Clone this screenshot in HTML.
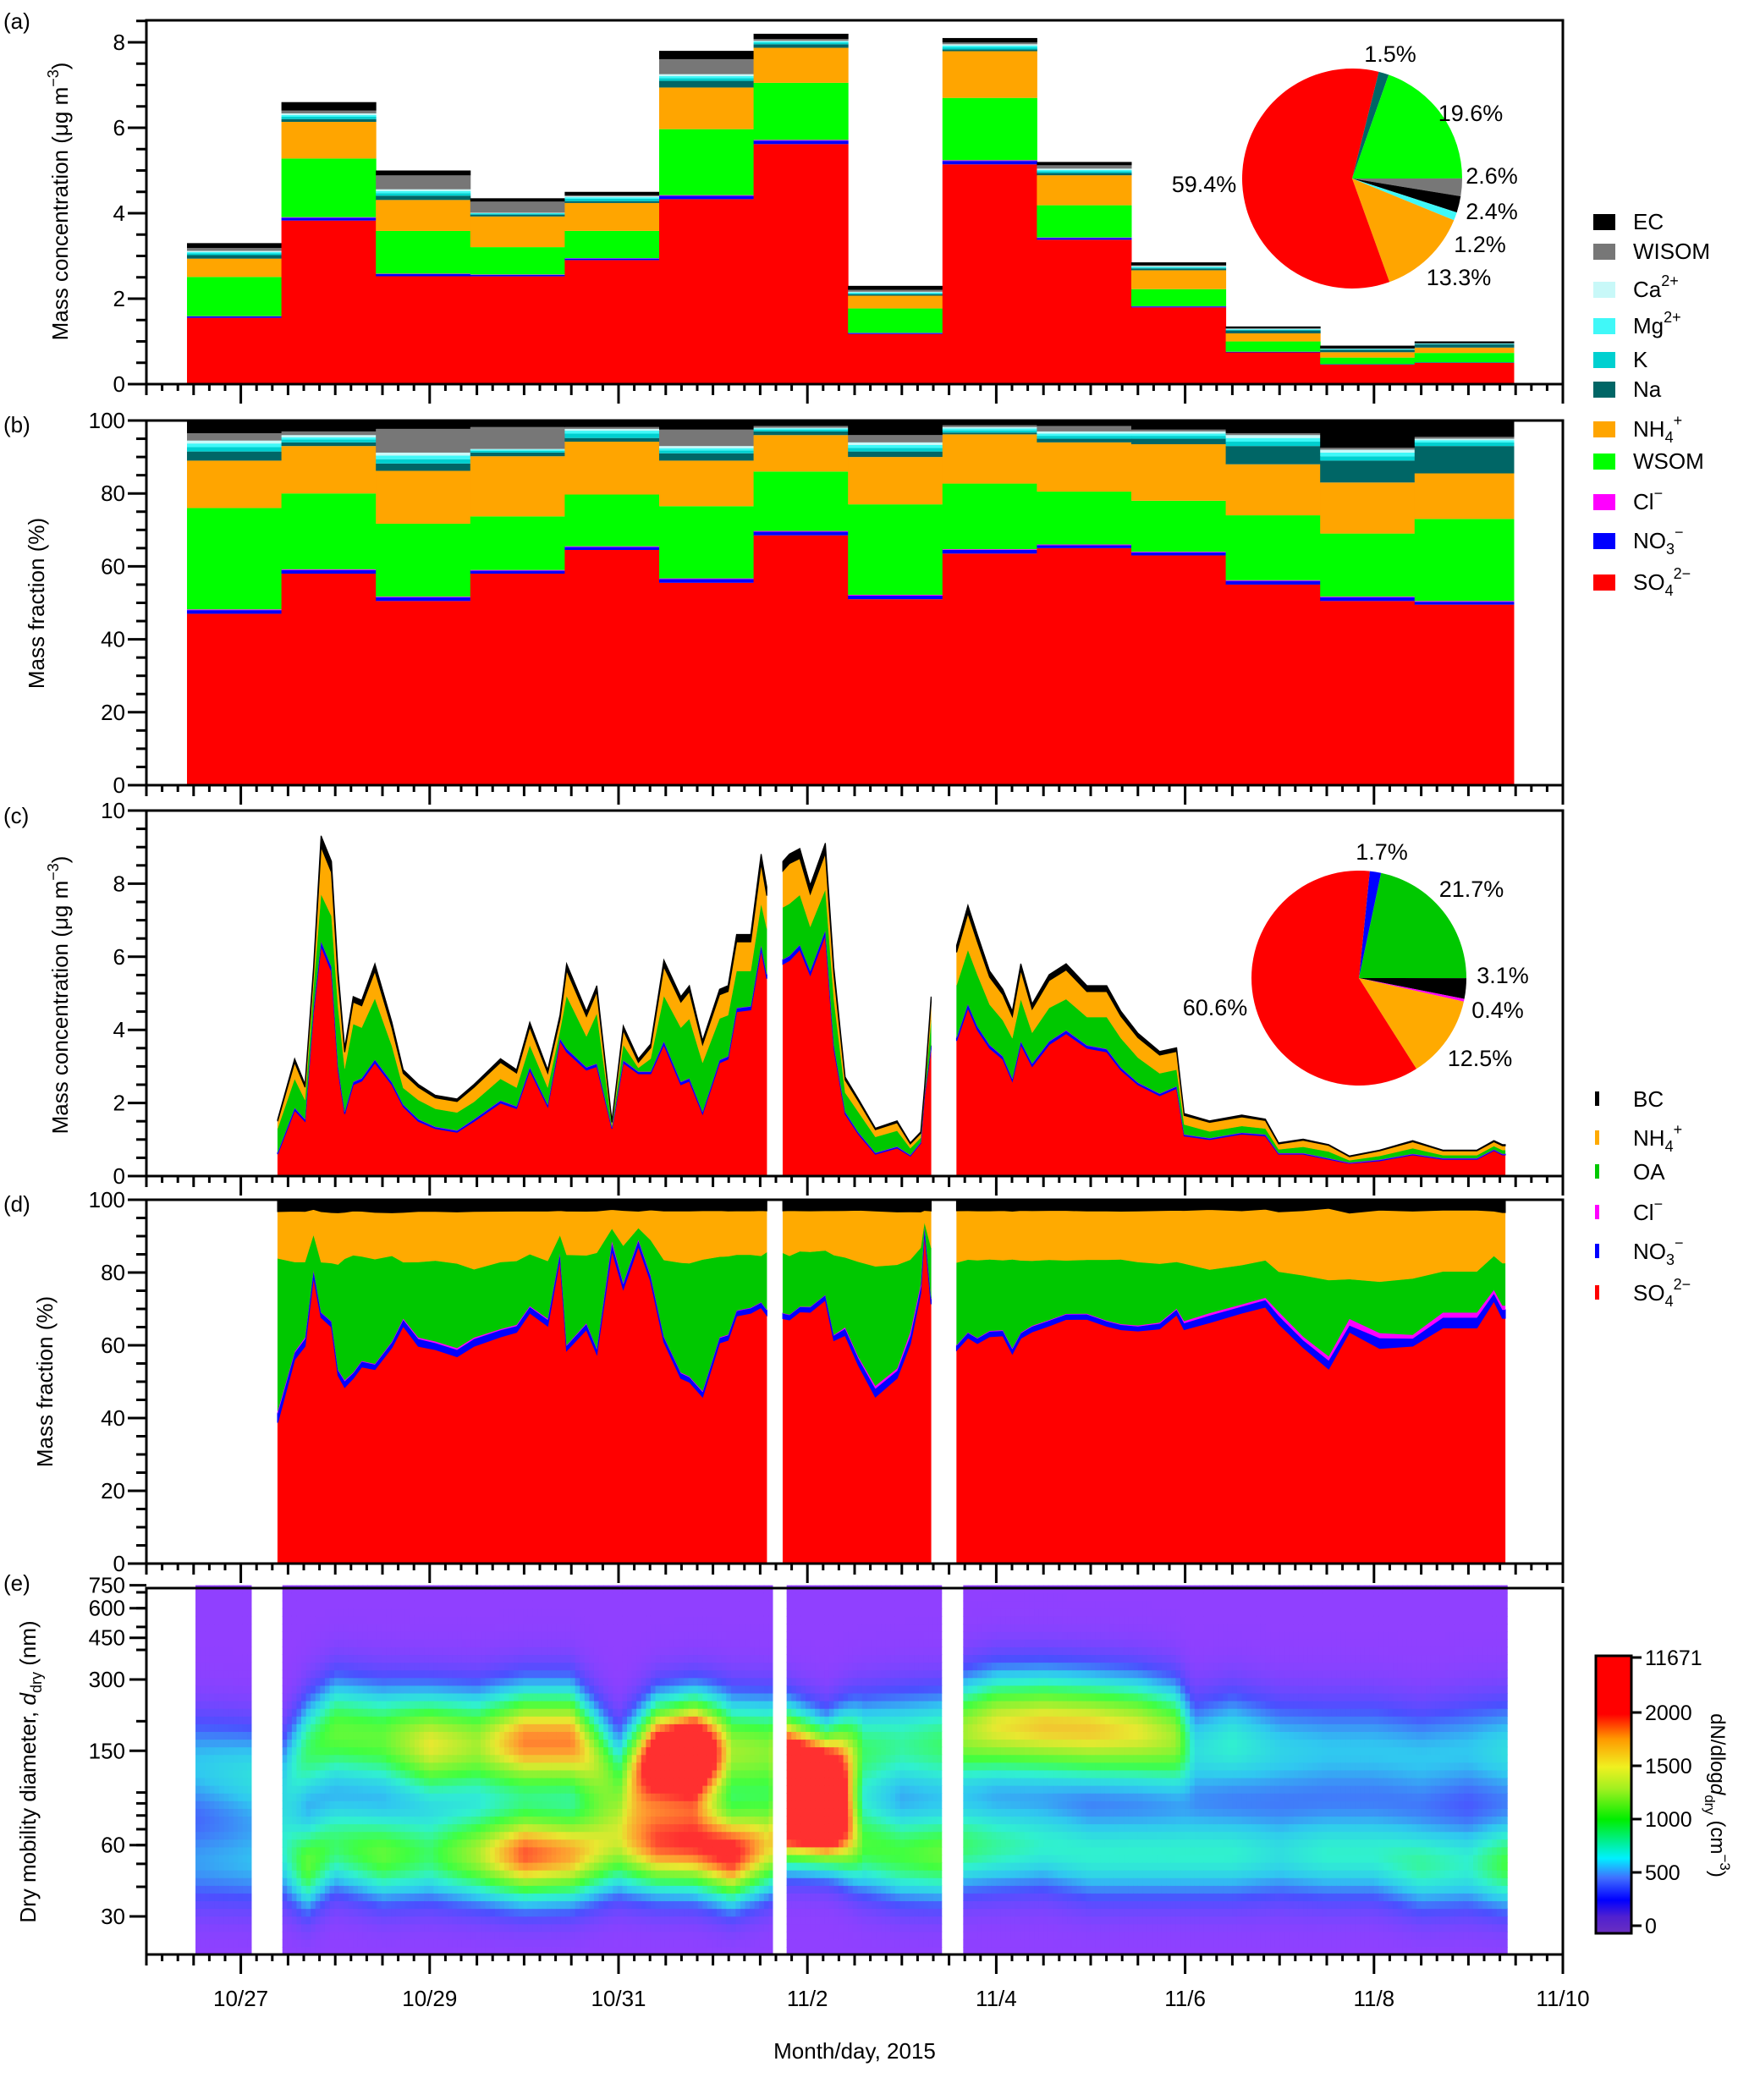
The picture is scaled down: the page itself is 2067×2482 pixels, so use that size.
<!DOCTYPE html>
<html><head><meta charset="utf-8"><style>
html,body{margin:0;padding:0;background:#fff}
svg{display:block;font-family:"Liberation Sans",Arial,sans-serif}
</style></head><body>
<svg id="chart" xmlns="http://www.w3.org/2000/svg" width="2067" height="2482" viewBox="0 0 2067 2482">
<defs>
<linearGradient id="cbgrad" x1="0" y1="1" x2="0" y2="0">
<stop offset="0" stop-color="#6a2fc0"/><stop offset="0.06" stop-color="#5020d0"/><stop offset="0.12" stop-color="#0000ff"/>
<stop offset="0.2" stop-color="#4070ff"/><stop offset="0.27" stop-color="#00f0ff"/><stop offset="0.41" stop-color="#00ee00"/>
<stop offset="0.52" stop-color="#a0f020"/><stop offset="0.6" stop-color="#f0f020"/><stop offset="0.7" stop-color="#ff9900"/>
<stop offset="0.79" stop-color="#ff0000"/><stop offset="1" stop-color="#ff0000"/>
</linearGradient>
</defs>
<g id="layer"></g>
<text x="4" y="34" font-size="26">(a)</text>
<text x="4" y="511" font-size="26">(b)</text>
<text x="4" y="973" font-size="26">(c)</text>
<text x="4" y="1432" font-size="26">(d)</text>
<text x="4" y="1880" font-size="26">(e)</text>
<text transform="translate(80,238) rotate(-90)" text-anchor="middle" font-size="26">Mass concentration (μg m<tspan dy="-11" font-size="18">−3</tspan><tspan dy="11">)</tspan></text>
<text transform="translate(52,713) rotate(-90)" text-anchor="middle" font-size="26">Mass fraction (%)</text>
<text transform="translate(80,1176) rotate(-90)" text-anchor="middle" font-size="26">Mass concentration (μg m<tspan dy="-11" font-size="18">−3</tspan><tspan dy="11">)</tspan></text>
<text transform="translate(62,1633) rotate(-90)" text-anchor="middle" font-size="26">Mass fraction (%)</text>
<text transform="translate(42,2094) rotate(-90)" text-anchor="middle" font-size="26">Dry mobility diameter, <tspan font-style="italic">d</tspan><tspan dy="7" font-size="18">dry</tspan><tspan dy="-7"> (nm)</tspan></text>
<text x="1010" y="2433" text-anchor="middle" font-size="26">Month/day, 2015</text>
<g font-size="26">
<rect x="1883" y="253" width="26" height="19" fill="#000"/><text x="1930" y="271">EC</text>
<rect x="1883" y="288" width="26" height="19" fill="#777"/><text x="1930" y="306">WISOM</text>
<rect x="1883" y="333" width="26" height="19" fill="#c8f8f8"/><text x="1930" y="351">Ca<tspan dy="-13" font-size="18">2+</tspan></text>
<rect x="1883" y="376" width="26" height="19" fill="#40f8f8"/><text x="1930" y="394">Mg<tspan dy="-13" font-size="18">2+</tspan></text>
<rect x="1883" y="416" width="26" height="19" fill="#00d0d0"/><text x="1930" y="434">K</text>
<rect x="1883" y="451" width="26" height="19" fill="#006666"/><text x="1930" y="469">Na</text>
<rect x="1883" y="498" width="26" height="19" fill="#ffa500"/><text x="1930" y="516">NH<tspan dy="7" font-size="18">4</tspan><tspan dy="-20" font-size="18">+</tspan></text>
<rect x="1883" y="536" width="26" height="19" fill="#00ff00"/><text x="1930" y="554">WSOM</text>
<rect x="1883" y="584" width="26" height="19" fill="#ff00ff"/><text x="1930" y="602">Cl<tspan dy="-13" font-size="18">−</tspan></text>
<rect x="1883" y="630" width="26" height="19" fill="#0000ff"/><text x="1930" y="648">NO<tspan dy="7" font-size="18">3</tspan><tspan dy="-20" font-size="18">−</tspan></text>
<rect x="1883" y="679" width="26" height="19" fill="#ff0000"/><text x="1930" y="697">SO<tspan dy="7" font-size="18">4</tspan><tspan dy="-20" font-size="18">2−</tspan></text>
</g>
<g font-size="26">
<rect x="1885" y="1290" width="5" height="17" fill="#000"/><text x="1930" y="1308">BC</text>
<rect x="1885" y="1336" width="5" height="17" fill="#ffaa00"/><text x="1930" y="1354">NH<tspan dy="7" font-size="18">4</tspan><tspan dy="-20" font-size="18">+</tspan></text>
<rect x="1885" y="1376" width="5" height="17" fill="#00c800"/><text x="1930" y="1394">OA</text>
<rect x="1885" y="1424" width="5" height="17" fill="#ff00ff"/><text x="1930" y="1442">Cl<tspan dy="-13" font-size="18">−</tspan></text>
<rect x="1885" y="1470" width="5" height="17" fill="#0000ff"/><text x="1930" y="1488">NO<tspan dy="7" font-size="18">3</tspan><tspan dy="-20" font-size="18">−</tspan></text>
<rect x="1885" y="1519" width="5" height="17" fill="#ff0000"/><text x="1930" y="1537">SO<tspan dy="7" font-size="18">4</tspan><tspan dy="-20" font-size="18">2−</tspan></text>
</g>
<rect x="1886" y="1957" width="42" height="328" fill="url(#cbgrad)" stroke="#000" stroke-width="3"/>
<text transform="translate(2022,2122) rotate(90)" text-anchor="middle" font-size="24">dN/dlog<tspan font-style="italic">d</tspan><tspan dy="7" font-size="17">dry</tspan><tspan dy="-7"> (cm</tspan><tspan dy="-11" font-size="17">−3</tspan><tspan dy="11">)</tspan></text>
</svg>
<script>
const NS='http://www.w3.org/2000/svg';
const root=document.getElementById('layer');
function mk(tag,attrs,parent){const e=document.createElementNS(NS,tag);for(const k in attrs)e.setAttribute(k,attrs[k]);(parent||root).appendChild(e);return e;}

/* ---------- DATA: panel (a)/(b) daily bars ---------- */
const barEdges=[-0.57,0.43,1.43,2.43,3.43,4.43,5.43,6.43,7.43,8.43,9.43,10.43,11.43,12.43,13.48];
const barTotal=[3.3,6.6,5.0,4.35,4.5,7.8,8.2,2.3,8.1,5.2,2.85,1.35,0.9,1.0];
const fSO4=[47,58,50.5,58,64.5,55.5,68.5,51,63.5,65,63,55,50.5,49.5];
const fNO3=[1,1,1,0.8,0.8,1,1,1,1,0.8,0.8,1,1,0.8];
const fCl=[0.2,0.2,0.2,0.2,0.2,0.2,0.2,0.2,0.2,0.2,0.2,0.2,0.2,0.2];
const fWSOM=[27.8,20.8,20,14.7,14.2,19.8,16.3,24.8,18,14.5,14,17.8,17.3,22.5];
const fNH4=[13,13,14.5,16.5,14.5,12.5,10,13,13.5,13.5,15.5,14,14,12.5];
const fNa=[2.5,1,2,1,1,2,1,1.5,0.5,1,1.5,5,6,7.5];
const fK=[1.2,0.8,1.2,0.5,1.2,0.8,0.5,1,0.6,0.8,0.8,1.2,1.2,1];
const fMg=[1,0.6,1,0.3,0.8,0.6,0.3,0.8,0.5,0.6,0.6,1,1,0.6];
const fCa=[0.8,0.6,0.8,0.2,0.5,0.6,0.2,0.7,0.4,0.6,0.6,0.8,0.8,0.4];
const fWISOM=[2,1,6.5,6,0.5,4.5,0.5,2,0.5,1.5,0.5,0.5,0.5,0.5];
const fEC=[3.5,3,2.3,1.8,1.8,2.5,1.5,4,1.3,1.5,2.5,3.5,7.5,4.5];

/* ---------- DATA: panel (c)/(d) time series ---------- */
const tC=[0.39,0.57,0.68,0.77,0.85,0.96,1.03,1.10,1.19,1.28,1.42,1.60,1.72,1.88,2.06,2.29,2.47,2.75,2.92,3.06,3.25,3.38,3.45,3.66,3.77,3.93,4.05,4.21,4.34,4.48,4.66,4.75,4.89,5.07,5.16,5.25,5.40,5.51,5.57,5.58,5.74,5.81,5.92,6.03,6.19,6.28,6.40,6.54,6.72,6.95,7.09,7.20,7.24,7.31,7.37,7.58,7.70,7.80,7.93,8.07,8.17,8.26,8.38,8.56,8.74,8.96,9.17,9.32,9.50,9.73,9.91,9.99,10.26,10.6,10.85,10.99,11.25,11.52,11.74,12.06,12.41,12.73,13.09,13.27,13.36,13.39];
const so4C=[0.6,1.8,1.5,4.5,6.3,5.6,2.9,1.7,2.5,2.6,3.1,2.5,1.9,1.5,1.3,1.2,1.5,2.0,1.85,2.9,1.9,3.7,3.4,2.9,3.0,1.3,3.1,2.8,2.8,3.6,2.5,2.6,1.7,3.1,3.2,4.5,4.55,6.2,5.4,null,5.8,5.9,6.2,5.5,6.6,3.5,1.7,1.15,0.6,0.77,0.55,0.9,2.2,3.5,null,3.7,4.6,4.0,3.5,3.2,2.6,3.6,3.0,3.6,3.9,3.5,3.4,2.9,2.5,2.2,2.4,1.1,1.0,1.15,1.1,0.6,0.6,0.46,0.35,0.42,0.58,0.46,0.46,0.7,0.58,0.58];
const no3C=[.04,.06,.05,.1,.12,.12,.08,.06,.07,.07,.08,.06,.05,.05,.04,.04,.05,.06,.05,.07,.05,.06,.08,.07,.07,.03,.06,.05,.05,.08,.07,.07,.05,.07,.07,.09,.09,.12,.11,null,.12,.12,.12,.11,.12,.08,.05,.04,.03,.03,.02,.02,.03,.07,null,.08,.1,.09,.08,.07,.06,.08,.07,.08,.08,.07,.07,.06,.05,.05,.05,.03,.03,.03,.03,.02,.02,.02,.01,.02,.02,.02,.02,.02,.02,.02];
const clC=[.01,.01,.01,.01,.01,.01,.01,.01,.01,.01,.01,.01,.01,.01,.01,.01,.01,.01,.01,.01,.01,.01,.01,.01,.01,.01,.01,.01,.01,.01,.01,.01,.01,.01,.01,.01,.01,.01,.01,null,.01,.01,.01,.01,.01,.01,.01,.01,.01,.01,.01,.01,.01,.01,null,.01,.01,.01,.01,.01,.01,.01,.01,.01,.01,.01,.01,.01,.01,.01,.01,.01,.01,.01,.01,.01,.01,.01,.01,.01,.01,.01,.01,.01,.01,.01];
const oaC=[.65,.79,.52,.55,1.28,1.38,1.62,1.17,1.58,1.38,1.67,.99,.45,.52,.49,.49,.47,.59,.51,.6,.46,.21,1.44,.84,1.37,.05,.42,.1,.35,1.24,1.48,1.62,1.34,1.13,1.12,1.01,.96,1.12,1.25,null,1.42,1.42,1.36,1.2,1.11,1.25,.52,.55,.43,.43,.18,.12,.02,.68,null,1.43,1.48,1.41,1.1,.98,1.1,1.15,.84,.91,.85,.77,.87,.8,.68,.55,.45,.27,.18,.18,.16,.1,.17,.18,.06,.1,.15,.08,.08,.09,.1,.1];
const nh4C=[.2,.45,.35,.4,1.3,1.2,.8,.45,.6,.6,.75,.5,.4,.35,.3,.3,.4,.45,.4,.5,.4,.3,.7,.55,.6,.08,.4,.15,.3,.8,.7,.75,.5,.65,.65,.8,.8,1.1,.9,null,1.0,1.1,1.0,.9,1.0,.7,.35,.3,.2,.22,.12,.12,.08,.5,null,.9,1.0,.9,.75,.7,.6,.8,.65,.75,.8,.7,.7,.6,.55,.5,.5,.25,.25,.25,.22,.15,.18,.17,.1,.14,.18,.12,.12,.12,.12,.12];
const bcC=[.05,.1,.08,.15,.3,.3,.2,.12,.15,.15,.2,.15,.1,.08,.07,.07,.08,.1,.09,.13,.09,.13,.18,.14,.16,.04,.12,.1,.1,.18,.15,.16,.11,.15,.16,.2,.2,.26,.24,null,.26,.26,.27,.24,.27,.17,.08,.06,.04,.05,.03,.04,.07,.15,null,.19,.22,.2,.17,.15,.14,.17,.14,.16,.17,.16,.16,.14,.12,.1,.1,.05,.04,.05,.04,.03,.03,.02,.02,.02,.03,.02,.02,.03,.03,.03];

/* ---------- DATA: pies ---------- */
const pieALabels=['1.5%','19.6%','2.6%','2.4%','1.2%','13.3%','59.4%'];
const pieAValues=[1.5,19.6,2.6,2.4,1.2,13.3,59.4];
const pieCLabels=['1.7%','21.7%','3.1%','0.4%','12.5%','60.6%'];
const pieCValues=[1.7,21.7,3.1,0.4,12.5,60.6];

/* ---------- DATA: panel (e) size-distribution modes ---------- */
const modeT=[-0.48,0.1,0.44,0.7,1.0,1.5,2.0,2.5,3.0,3.5,4.0,4.4,4.8,5.2,5.6,5.8,6.2,6.6,7.0,7.4,7.65,8.0,8.5,9.0,9.5,9.9,10.1,10.5,11.0,11.5,12.0,12.5,13.0,13.4];
const accD=[130,120,110,150,180,170,160,160,165,165,110,140,145,150,150,130,110,150,160,160,180,190,190,185,180,170,150,160,150,150,150,140,150,150];
const accN=[500,600,500,900,1100,1100,1500,1300,1800,1800,900,2500,3000,1300,1200,2500,2500,900,800,900,1300,1500,1600,1600,1500,1300,600,700,550,500,500,500,500,600];
const aitD=[50,50,55,50,60,55,55,55,55,55,60,60,60,55,60,80,80,60,55,55,60,60,60,55,55,55,55,55,55,55,55,50,50,50];
const aitN=[400,450,600,1100,900,1100,900,1300,1900,1700,1200,1800,1900,2100,1500,2500,2500,1000,1000,1100,900,800,700,700,700,700,700,700,600,700,700,800,700,1000];
const segStart=[-0.48,0.44,5.78,7.65];
const segEnd=[0.11,5.63,7.42,13.41];
const cbTicks=[0,500,1000,1500,2000];
const cbTopLabel='11671';
const sizeTicks=[30,60,150,300,450,600,750];
const sizeMinor=[30,40,50,60,70,80,90,100,200,300,400,500,600,700];
const dayLabels=['10/27','10/29','10/31','11/2','11/4','11/6','11/8','11/10'];

/* ---------- scales ---------- */
const XL=173,XR=1847;
const X=d=>XL+111.6*(d+1);
const P={a:[24,454],b:[497,928],c:[958,1390],d:[1418,1848],e:[1877,2310]};
const yA=v=>454-v*50.5;
const yB=v=>928-v*4.31;
const yC=v=>1390-v*43.2;
const yD=v=>1848-v*4.30;
const yE=dnm=>1985-280*Math.log10(dnm/300);

/* ---------- panels a & b ---------- */
const barComps=[fSO4,fNO3,fCl,fWSOM,fNH4,fNa,fK,fMg,fCa,fWISOM,fEC];
const barNames=['so4','no3','cl','wsom','nh4','na','k','mg','ca','wisom','ec'];
const barColors=['#ff0000','#0000ff','#ff00ff','#00ff00','#ffa500','#006666','#00d0d0','#40f8f8','#c8f8f8','#777777','#000000'];
for(let i=0;i<barTotal.length;i++){
  let s=0;barComps.forEach(c=>s+=c[i]);
  let ca=0,cb=0;
  const x0=X(barEdges[i]),x1=X(barEdges[i+1]);
  barComps.forEach((c,k)=>{
    const fr=c[i]/s;
    const va=barTotal[i]*fr;
    const ra=mk('rect',{x:x0,y:yA(ca+va),width:x1-x0+0.5,height:Math.max(0,yA(ca)-yA(ca+va)),fill:barColors[k]});
    
    
    ca+=va;
    const vb=fr*100;
    const rb=mk('rect',{x:x0,y:yB(cb+vb),width:x1-x0+0.5,height:Math.max(0,yB(cb)-yB(cb+vb)),fill:barColors[k]});
    
    
    cb+=vb;
  });
}

/* ---------- panels c & d ---------- */
const serComps=[so4C,no3C,clC,oaC,nh4C,bcC];
const serNames=['so4','no3','cl','oa','nh4','bc'];
const serColors=['#ff0000','#0000ff','#ff00ff','#00c800','#ffaa00','#000000'];
const segs=[];let cur=[];
tC.forEach((t,i)=>{if(so4C[i]===null){if(cur.length)segs.push(cur);cur=[];}else cur.push(i);});
if(cur.length)segs.push(cur);
function stack(norm,yf,panel){
  segs.forEach((idx,si)=>{
    const base=idx.map(()=>0);
    serComps.forEach((c,k)=>{
      const tops=idx.map((i,j)=>{let tot=0;serComps.forEach(cc=>tot+=cc[i]);return base[j]+(norm?c[i]/tot*100:c[i]);});
      let d='M'+X(tC[idx[0]])+','+yf(base[0]);
      idx.forEach((i,j)=>{d+=' L'+X(tC[i])+','+yf(tops[j]);});
      for(let j=idx.length-1;j>=0;j--)d+=' L'+X(tC[idx[j]])+','+yf(base[j]);
      const p=mk('path',{d:d+'Z',fill:serColors[k],stroke:serColors[k],'stroke-width':k===1||k===5?1.2:0.4});
      
      
      idx.forEach((i,j)=>base[j]=tops[j]);
    });
  });
}
stack(false,yC,'c');
stack(true,yD,'d');

/* ---------- panel e heatmap ---------- */
const cstops=[[0,[144,64,255]],[250,[74,80,255]],[500,[48,200,240]],[700,[48,240,208]],[1000,[64,255,64]],[1300,[160,240,48]],[1500,[232,232,48]],[1750,[255,153,48]],[2000,[255,48,48]]];
function col(v){
  if(v<=0)return 'rgb(144,64,255)';
  for(let i=1;i<cstops.length;i++){if(v<=cstops[i][0]){const a=cstops[i-1],b=cstops[i];const f=(v-a[0])/(b[0]-a[0]);const c=a[1].map((x,j)=>Math.round(x+(b[1][j]-x)*f));return 'rgb('+c+')';}}
  return 'rgb(255,48,48)';
}
function interp(arr,t){
  if(t<=modeT[0])return arr[0];
  for(let i=1;i<modeT.length;i++){if(t<=modeT[i]){const f=(t-modeT[i-1])/(modeT[i]-modeT[i-1]);return arr[i-1]+(arr[i]-arr[i-1])*f;}}
  return arr[arr.length-1];
}
const gE=mk('g',{});


const dmin=20.7,dmax=750,NR=48,DT=0.05;
for(let s=0;s<segStart.length;s++){
  for(let t=segStart[s];t<segEnd[s]-1e-6;t+=DT){
    const t1=Math.min(t+DT,segEnd[s]);
    const tm=(t+t1)/2;
    const ad=interp(accD,tm),an=interp(accN,tm),id=interp(aitD,tm),inn=interp(aitN,tm);
    for(let r=0;r<NR;r++){
      const l0=Math.log10(dmin)+(Math.log10(dmax)-Math.log10(dmin))*r/NR;
      const l1=Math.log10(dmin)+(Math.log10(dmax)-Math.log10(dmin))*(r+1)/NR;
      const lm=(l0+l1)/2;
      const v=an*Math.exp(-0.5*Math.pow((lm-Math.log10(ad))/0.15,2))+inn*Math.exp(-0.5*Math.pow((lm-Math.log10(id))/0.13,2));
      const y0=yE(Math.pow(10,l1)),y1=yE(Math.pow(10,l0));
      const c=mk('rect',{x:X(t),y:y0,width:X(t1)-X(t)+0.6,height:y1-y0+0.6,fill:col(v)},gE);
      
      
    }
  }
}

/* ---------- pies ---------- */
function pie(cx,cy,r,start,vals,colors,labels,lpos,name){
  let a=start;
  vals.forEach((v,i)=>{
    const a2=a+v*3.6;
    const r1=a*Math.PI/180,r2=a2*Math.PI/180;
    const x1=cx+r*Math.sin(r1),y1=cy-r*Math.cos(r1),x2=cx+r*Math.sin(r2),y2=cy-r*Math.cos(r2);
    const p=mk('path',{d:`M${cx},${cy} L${x1},${y1} A${r},${r} 0 ${v*3.6>180?1:0} 1 ${x2},${y2} Z`,fill:colors[i]});
    
    
    const tx=mk('text',{x:lpos[i][0],y:lpos[i][1],'font-size':27,'text-anchor':'middle'});
    tx.textContent=labels[i];
    
    
    a=a2;
  });
}
pie(1598,211,130,14,pieAValues,['#006666','#00ff00','#777777','#000000','#40f8f8','#ffa500','#ff0000'],pieALabels,[[1643,73],[1738,143],[1763,217],[1763,259],[1749,298],[1724,337],[1423,227]],'pie-a');
pie(1606,1156,127,5.8,pieCValues,['#0000ff','#00c800','#000000','#ff00ff','#ffaa00','#ff0000'],pieCLabels,[[1633,1016],[1739,1060],[1776,1162],[1770,1203],[1749,1260],[1436,1200]],'pie-c');

/* ---------- frames & axes ---------- */
const yAx=[
 ['a',yA,[0,2,4,6,8],0.5,8.5],
 ['b',yB,[0,20,40,60,80,100],5,100],
 ['c',yC,[0,2,4,6,8,10],0.5,10],
 ['d',yD,[0,20,40,60,80,100],5,100]];
Object.keys(P).forEach(k=>{
  const [t,b]=P[k];
  const f=mk('rect',{x:XL,y:t,width:XR-XL,height:b-t,fill:'none',stroke:'#000','stroke-width':3});
  
  
  for(let h=0;h<=90;h++){
    const d=-1+h/6;
    let len=8;
    if(h%12===6)len=23;else if(h%3===0)len=13;
    const tk=mk('line',{x1:X(d),x2:X(d),y1:b,y2:b+len,stroke:'#000','stroke-width':3});
    
    
  }
});
yAx.forEach(([k,yf,labs,minor,max])=>{
  for(let v=0;v<=max+1e-9;v+=minor){
    const major=labs.some(l=>Math.abs(l-v)<1e-9);
    const tk=mk('line',{x1:XL-(major?22:12),x2:XL,y1:yf(v),y2:yf(v),stroke:'#000','stroke-width':3});
    
    
  }
  labs.forEach(l=>{
    const tx=mk('text',{x:148,y:yf(l)+9,'font-size':26,'text-anchor':'end'});
    tx.textContent=l;
    
    
  });
});
sizeMinor.forEach(s=>{
  const tk=mk('line',{x1:XL-12,x2:XL,y1:yE(s),y2:yE(s),stroke:'#000','stroke-width':3});
  
  
});
sizeTicks.forEach(s=>{
  const tk=mk('line',{x1:XL-20,x2:XL,y1:yE(s),y2:yE(s),stroke:'#000','stroke-width':3});
  
  
  const tx=mk('text',{x:148,y:yE(s)+9,'font-size':26,'text-anchor':'end'});
  tx.textContent=s;
  
  
});
dayLabels.forEach((l,i)=>{
  const tx=mk('text',{x:X(i*2),y:2371,'font-size':26,'text-anchor':'middle'});
  tx.textContent=l;
  
  
});
const cbY=v=>2276-v*0.126;
cbTicks.forEach(v=>{
  const tk=mk('line',{x1:1928,x2:1940,y1:cbY(v),y2:cbY(v),stroke:'#000','stroke-width':3});
  
  
  const tx=mk('text',{x:1944,y:cbY(v)+9,'font-size':25});
  tx.textContent=v;
  
  
});
const tkTop=mk('line',{x1:1928,x2:1940,y1:1959,y2:1959,stroke:'#000','stroke-width':3});


const txTop=mk('text',{x:1944,y:1968,'font-size':25});
txTop.textContent=cbTopLabel;


</script>
</body></html>
